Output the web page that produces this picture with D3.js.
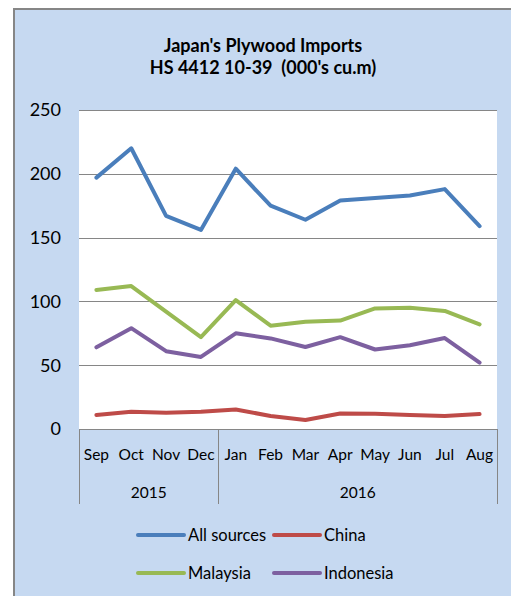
<!DOCTYPE html>
<html>
<head>
<meta charset="utf-8">
<script src="https://cdn.jsdelivr.net/npm/d3@7"></script>
<style>
  body { margin: 0; background: #fff; }
  text { font-family: Lato, "Open Sans", sans-serif; fill: #000; }
</style>
</head>
<body>
<div id="chart"></div>
<script>
var months = ['Sep', 'Oct', 'Nov', 'Dec', 'Jan', 'Feb', 'Mar', 'Apr', 'May', 'Jun', 'Jul', 'Aug'];
var years = [{ label: '2015', from: 0, to: 4 }, { label: '2016', from: 4, to: 12 }];
var allSources = [197, 220, 167, 156, 204, 175, 164, 179, 181, 183, 188, 159];
var china = [11, 13.5, 12.7, 13.5, 15.3, 10.2, 7, 12.2, 12, 11, 10.2, 11.7];
var malaysia = [109, 112, 92, 72, 101, 81, 84, 85, 94.5, 95, 92.5, 82];
var indonesia = [64, 79, 61, 56.5, 75, 71, 64.3, 72, 62.3, 65.6, 71.3, 52];
var yTicks = [0, 50, 100, 150, 200, 250];

var series = [
    { name: 'All sources', values: allSources, color: '#4A7EBB' },
    { name: 'China', values: china, color: '#BE4B48' },
    { name: 'Malaysia', values: malaysia, color: '#98B954' },
    { name: 'Indonesia', values: indonesia, color: '#7D60A0' }
];

var width = 511,
    height = 596,
    margin = { left: 79, right: 14, top: 110, bottom: 167 };

var chartWidth = width - margin.left - margin.right;
var chartHeight = height - margin.top - margin.bottom;

var svg = d3.select('#chart').append('svg')
    .attr('width', width)
    .attr('height', height);

// chart area background + frame
svg.append('rect')
    .attr('x', 14).attr('y', 9)
    .attr('width', width - 14).attr('height', height - 9)
    .attr('fill', '#C6D9F1');
svg.append('path')
    .attr('d', 'M14,' + height + 'V9H' + width)
    .attr('fill', 'none')
    .attr('stroke', '#868686')
    .attr('stroke-width', 2);

// title
var title = svg.append('text')
    .attr('text-anchor', 'middle')
    .style('font-weight', 'bold')
    .style('font-size', '18px')
    .style('white-space', 'pre');
title.append('tspan').attr('x', 263).attr('y', 52).text("Japan's Plywood Imports");
title.append('tspan').attr('x', 263).attr('y', 74).text("HS 4412 10-39  (000's cu.m)");

var xScale = d3.scaleBand().domain(d3.range(months.length)).range([0, chartWidth]);
var yScale = d3.scaleLinear().domain([0, 250]).range([chartHeight, 0]);

var g = svg.append('g')
    .attr('transform', 'translate(' + margin.left + ',' + margin.top + ')');

g.append('rect')
    .attr('width', chartWidth).attr('height', chartHeight)
    .attr('fill', '#fff');

// gridlines
g.append('g').selectAll('line')
    .data(yTicks.filter((d) => d > 0))
    .enter().append('line')
    .attr('x1', 0).attr('x2', chartWidth)
    .attr('y1', (d) => Math.round(yScale(d)) + 0.5)
    .attr('y2', (d) => Math.round(yScale(d)) + 0.5)
    .attr('stroke', '#868686');

// y labels
g.append('g').selectAll('text')
    .data(yTicks)
    .enter().append('text')
    .attr('x', -18)
    .attr('y', (d) => yScale(d))
    .attr('dy', '0.35em')
    .attr('text-anchor', 'end')
    .style('font-size', '18px')
    .text((d) => d);

// category axis box
var axisG = g.append('g').attr('transform', 'translate(0,' + chartHeight + ')');
axisG.append('line')
    .attr('x1', 0).attr('x2', chartWidth)
    .attr('y1', 0.5).attr('y2', 0.5)
    .attr('stroke', '#868686');
axisG.selectAll('line.sep')
    .data([0, 4, 12])
    .enter().append('line')
    .attr('class', 'sep')
    .attr('x1', (d) => Math.round(d === 12 ? chartWidth : xScale(d)) + 0.5)
    .attr('x2', (d) => Math.round(d === 12 ? chartWidth : xScale(d)) + 0.5)
    .attr('y1', 0).attr('y2', 75)
    .attr('stroke', '#868686');
axisG.selectAll('text.month')
    .data(months)
    .enter().append('text')
    .attr('class', 'month')
    .attr('x', (d, i) => xScale(i) + xScale.bandwidth() / 2)
    .attr('y', 31)
    .attr('text-anchor', 'middle')
    .style('font-size', '15.5px')
    .text((d) => d);
axisG.selectAll('text.year')
    .data(years)
    .enter().append('text')
    .attr('class', 'year')
    .attr('x', (d) => (xScale(d.from) + (d.to === 12 ? chartWidth : xScale(d.to))) / 2)
    .attr('y', 69)
    .attr('text-anchor', 'middle')
    .style('font-size', '15.5px')
    .text((d) => d.label);

// lines
var line = d3.line()
    .x((d, i) => xScale(i) + xScale.bandwidth() / 2)
    .y((d) => yScale(d));

g.append('g').selectAll('path')
    .data(series)
    .enter().append('path')
    .attr('d', (d) => line(d.values))
    .attr('fill', 'none')
    .attr('stroke', (d) => d.color)
    .attr('stroke-width', 4)
    .attr('stroke-linejoin', 'round')
    .attr('stroke-linecap', 'round');

// legend
var legendPos = [[138, 535], [274, 535], [138, 573], [274, 573]];
var legend = svg.append('g').selectAll('g')
    .data(series)
    .enter().append('g')
    .attr('transform', (d, i) => 'translate(' + legendPos[i][0] + ',' + legendPos[i][1] + ')');
legend.append('line')
    .attr('x1', 0).attr('x2', 46)
    .attr('stroke', (d) => d.color)
    .attr('stroke-width', 4)
    .attr('stroke-linecap', 'round');
legend.append('text')
    .attr('x', 50)
    .attr('dy', '0.35em')
    .style('font-size', '16.5px')
    .text((d) => d.name);
</script>
</body>
</html>
